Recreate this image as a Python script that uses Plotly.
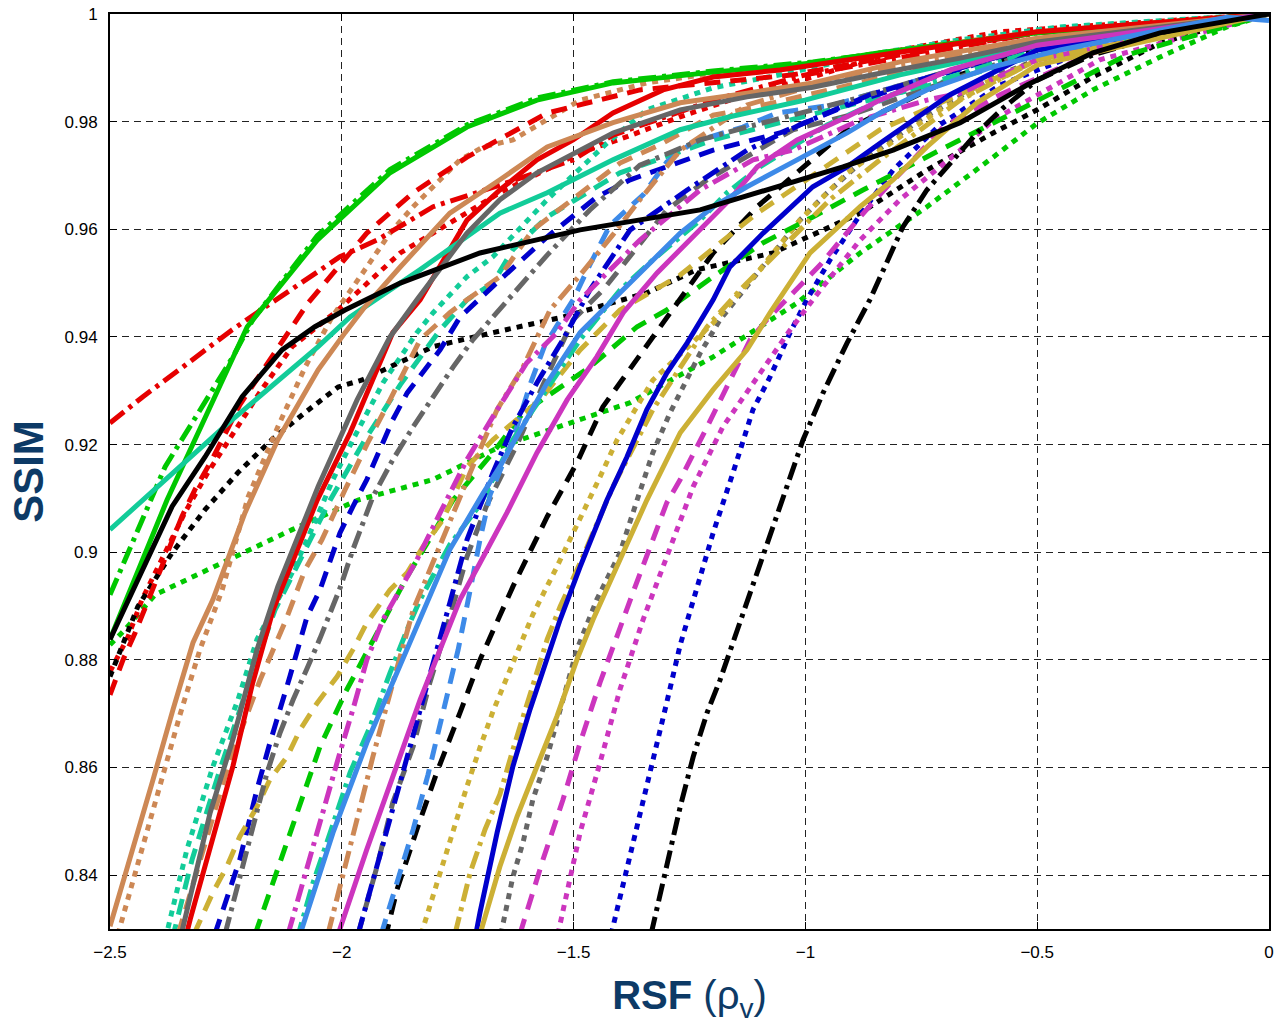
import plotly.graph_objects as go

# ---------------- data (RSF rho_v vs SSIM) ----------------
green_solid_x = [-2.5, -2.377, -2.204, -2.053, -1.896, -1.730, -1.579, -1.415, -1.199, -0.984, -0.839, -0.5, 0]
green_solid_y = [.8838, .9097, .9419, .9580, .9705, .9790, .9840, .9872, .9892, .9909, .9928, .9965, 1.0]
green_dashdot_x = [-2.5, -2.381, -2.235, -2.192, -2.053, -1.896, -1.730, -1.579, -1.415, -1.199, -0.984, -0.5, 0]
green_dashdot_y = [.8921, .9159, .9363, .9432, .9588, .9711, .9794, .9844, .9874, .9894, .9911, .9965, 1.0]
green_dot_x = [-2.5, -2.468, -2.403, -2.258, -2.107, -1.965, -1.803, -1.659, -1.486, -1.378, -1.199, -1.018, -0.882, -0.739, -0.595, -0.5, -0.380, -0.235, -0.091, 0]
green_dot_y = [.8828, .8856, .8921, .8980, .9042, .9097, .9135, .9196, .9246, .9278, .9363, .9463, .9556, .9641, .9734, .9797, .9859, .9920, .9976, 1.0]
green_dash_x = [-2.187, -2.133, -2.090, -2.047, -1.989, -1.924, -1.859, -1.760, -1.674, -1.609, -1.529, -1.465, -1.363, -1.299, -1.199, -1.091, -0.984, -0.876, -0.710, -0.5, -0.306, 0]
green_dash_y = [.8290, .8423, .8527, .8639, .8745, .8851, .8955, .9097, .9185, .9259, .9307, .9344, .9419, .9450, .9512, .9575, .9623, .9673, .9747, .9840, .9924, 1.0]

red_solid_x = [-2.338, -2.327, -2.235, -2.192, -2.148, -2.053, -1.982, -1.890, -1.831, -1.730, -1.659, -1.579, -1.501, -1.415, -1.307, -1.199, -1.055, -0.796, -0.5, 0]
red_solid_y = [.8280, .8318, .8602, .8758, .8893, .9097, .9222, .9408, .9469, .9617, .9673, .9729, .9766, .9816, .9859, .9883, .9896, .9929, .9967, 1.0]
red_dashdot_x = [-2.5, -2.429, -2.343, -2.237, -2.183, -2.118, -2.004, -1.924, -1.803, -1.659, -1.501, -1.415, -1.199, -1.0, -0.5, 0]
red_dashdot_y = [.9240, .9289, .9344, .9413, .9445, .9482, .9549, .9580, .9642, .9682, .9729, .9775, .9840, .9887, .9965, 1.0]
red_dash_x = [-2.5, -2.472, -2.446, -2.345, -2.317, -2.280, -2.220, -2.144, -2.107, -2.073, -1.946, -1.846, -1.730, -1.674, -1.557, -1.357, -1.027, -0.796, -0.5, 0]
red_dash_y = [.8735, .8800, .8850, .9066, .9116, .9172, .9274, .9370, .9419, .9463, .9593, .9668, .9734, .9760, .9816, .9859, .9887, .9924, .9965, 1.0]
red_dot_x = [-2.5, -2.461, -2.431, -2.397, -2.367, -2.339, -2.289, -2.231, -2.173, -2.107, -2.043, -2.008, -1.874, -1.803, -1.659, -1.486, -1.385, -1.270, -1.163, -0.984, -0.796, -0.580, 0]
red_dot_y = [.8778, .8843, .8912, .8973, .9023, .9073, .9148, .9227, .9302, .9382, .9426, .9450, .9556, .9593, .9668, .9742, .9772, .9809, .9840, .9883, .9933, .9967, 1.0]

black_solid_x = [-2.5, -2.366, -2.295, -2.215, -2.129, -2.058, -1.993, -1.874, -1.702, -1.486, -1.227, -1.061, -0.919, -0.811, -0.666, -0.522, -0.380, -0.235, 0]
black_solid_y = [.8838, .9085, .9177, .9289, .9376, .9419, .9450, .9500, .9556, .9599, .9636, .9679, .9716, .9747, .9798, .9868, .9928, .9965, 1.0]
black_dot_x = [-2.5, -2.440, -2.366, -2.295, -2.224, -2.151, -2.080, -2.008, -1.956, -1.803, -1.674, -1.523, -1.342, -1.234, -1.070, -0.882, -0.738, -0.595, -0.5, -0.380, -0.235, -0.091, 0]
black_dot_y = [.8769, .8899, .8999, .9079, .9148, .9209, .9259, .9307, .9320, .9382, .9408, .9437, .9482, .9525, .9556, .9630, .9710, .9779, .9822, .9883, .9946, .9983, 1.0]
black_dash_x = [-1.907, -1.881, -1.838, -1.795, -1.745, -1.702, -1.665, -1.631, -1.557, -1.493, -1.437, -1.385, -1.277, -1.199, -1.104, -1.005, -0.910, -0.839, -0.666, -0.5, 0]
black_dash_y = [.8280, .8373, .8485, .8591, .8702, .8800, .8871, .8936, .9066, .9166, .9270, .9333, .9463, .9556, .9642, .9716, .9785, .9816, .9887, .9937, 1.0]
black_dashdot_x = [-1.333, -1.299, -1.270, -1.242, -1.212, -1.184, -1.130, -1.076, -1.040, -1.005, -0.962, -0.910, -0.861, -0.790, -0.738, -0.688, -0.630, -0.574, -0.5, -0.380, -0.235, -0.091, 0]
black_dashdot_y = [.8290, .8416, .8527, .8620, .8702, .8763, .8897, .9036, .9122, .9209, .9296, .9389, .9469, .9604, .9673, .9723, .9779, .9825, .9877, .9924, .9961, .9989, 1.0]

teal_solid_x = [-2.5, -2.245, -2.051, -1.982, -1.831, -1.659, -1.557, -1.415, -1.270, -1.163, -1.001, -0.796, -0.5, 0]
teal_solid_y = [.9042, .9240, .9382, .9437, .9525, .9630, .9668, .9729, .9785, .9809, .9840, .9887, .9942, 1.0]
teal_dot_x = [-2.381, -2.334, -2.278, -2.224, -2.183, -2.107, -2.075, -2.019, -1.976, -1.911, -1.838, -1.803, -1.730, -1.674, -1.557, -1.428, -1.342, -1.199, -1.055, -0.839, -0.666, -0.451, 0]
teal_dot_y = [.8280, .8448, .8602, .8726, .8838, .8962, .9023, .9135, .9209, .9315, .9408, .9445, .9512, .9549, .9655, .9760, .9822, .9863, .9887, .9928, .9952, .9976, 1.0]
teal_dash_x = [-2.366, -2.323, -2.263, -2.198, -2.144, -2.090, -2.025, -1.950, -1.874, -1.788, -1.730, -1.674, -1.631, -1.557, -1.400, -1.320, -1.199, -0.947, -0.688, -0.5, 0]
teal_dash_y = [.8280, .8429, .8596, .8763, .8893, .8986, .9097, .9209, .9311, .9413, .9469, .9500, .9562, .9623, .9705, .9729, .9766, .9822, .9877, .9924, 1.0]
teal_dashdot_x = [-2.097, -2.062, -2.025, -1.982, -1.939, -1.896, -1.853, -1.831, -1.767, -1.702, -1.631, -1.557, -1.486, -1.400, -1.329, -1.227, -1.169, -1.098, -0.953, -0.811, -0.5, 0]
teal_dashdot_y = [.8280, .8386, .8479, .8591, .8676, .8776, .8869, .8912, .9014, .9088, .9209, .9302, .9395, .9487, .9543, .9617, .9668, .9716, .9794, .9850, .9933, 1.0]

brown_solid_x = [-2.5, -2.450, -2.407, -2.364, -2.321, -2.278, -2.209, -2.138, -2.051, -1.993, -1.950, -1.874, -1.767, -1.659, -1.557, -1.415, -1.270, -1.126, -0.984, -0.796, -0.5, 0]
brown_solid_y = [.8305, .8448, .8578, .8708, .8832, .8912, .9073, .9209, .9339, .9408, .9456, .9530, .9630, .9692, .9753, .9798, .9835, .9853, .9872, .9911, .9955, 1.0]
brown_dot_x = [-2.483, -2.435, -2.392, -2.349, -2.306, -2.258, -2.202, -2.138, -2.079, -2.021, -1.946, -1.896, -1.846, -1.803, -1.745, -1.695, -1.631, -1.486, -1.342, -1.199, -0.984, -0.839, -0.5, 0]
brown_dot_y = [.8290, .8438, .8568, .8698, .8819, .8930, .9103, .9233, .9344, .9437, .9530, .9593, .9642, .9679, .9729, .9753, .9766, .9840, .9872, .9890, .9909, .9928, .9967, 1.0]
brown_dash_x = [-2.353, -2.306, -2.241, -2.176, -2.123, -2.079, -2.043, -1.993, -1.946, -1.896, -1.831, -1.767, -1.730, -1.659, -1.588, -1.523, -1.400, -1.314, -1.199, -1.135, -0.904, -0.5, 0]
brown_dash_y = [.8290, .8429, .8615, .8763, .8869, .8968, .9023, .9116, .9200, .9283, .9395, .9445, .9469, .9512, .9599, .9642, .9723, .9757, .9812, .9822, .9868, .9952, 1.0]
brown_dashdot_x = [-2.030, -2.004, -1.976, -1.933, -1.890, -1.846, -1.816, -1.773, -1.723, -1.665, -1.609, -1.551, -1.486, -1.415, -1.357, -1.270, -1.126, -0.904, -0.5, 0]
brown_dashdot_y = [.8290, .8379, .8479, .8620, .8757, .8893, .8955, .9047, .9148, .9265, .9344, .9450, .9515, .9590, .9655, .9747, .9831, .9887, .9952, 1.0]

gray_solid_x = [-2.349, -2.284, -2.235, -2.183, -2.138, -2.051, -1.967, -1.896, -1.838, -1.730, -1.659, -1.579, -1.415, -1.270, -1.126, -0.984, -0.839, -0.666, -0.5, 0]
gray_solid_y = [.8280, .8516, .8652, .8819, .8936, .9122, .9283, .9400, .9469, .9593, .9655, .9705, .9779, .9822, .9846, .9864, .9890, .9918, .9948, 1.0]
gray_dot_x = [-1.657, -1.631, -1.609, -1.588, -1.557, -1.536, -1.514, -1.493, -1.450, -1.400, -1.363, -1.329, -1.292, -1.255, -1.227, -1.184, -1.098, -1.012, -0.953, -0.882, -0.753, -0.595, -0.5, 0]
gray_dot_y = [.8290, .8397, .8461, .8540, .8620, .8683, .8750, .8819, .8912, .8999, .9097, .9185, .9259, .9320, .9370, .9432, .9525, .9617, .9668, .9723, .9803, .9883, .9915, 1.0]
gray_dash_x = [-1.965, -1.924, -1.890, -1.846, -1.810, -1.773, -1.730, -1.687, -1.622, -1.566, -1.501, -1.437, -1.393, -1.299, -1.212, -1.027, -0.904, -0.688, -0.5, 0]
gray_dash_y = [.8290, .8416, .8535, .8639, .8758, .8862, .8992, .9088, .9200, .9311, .9432, .9487, .9534, .9636, .9692, .9785, .9812, .9877, .9933, 1.0]
gray_dashdot_x = [-2.252, -2.220, -2.192, -2.161, -2.133, -2.105, -2.075, -2.047, -2.004, -1.976, -1.933, -1.890, -1.846, -1.803, -1.760, -1.717, -1.674, -1.616, -1.557, -1.465, -1.357, -1.227, -1.126, -0.904, -0.5, 0]
gray_dashdot_y = [.8290, .8397, .8490, .8591, .8665, .8726, .8784, .8840, .8933, .9005, .9103, .9172, .9233, .9289, .9344, .9395, .9437, .9497, .9552, .9636, .9719, .9766, .9790, .9840, .9942, 1.0]

blue_solid_x = [-1.711, -1.702, -1.665, -1.631, -1.594, -1.557, -1.529, -1.486, -1.428, -1.385, -1.342, -1.299, -1.255, -1.199, -1.163, -1.091, -0.984, -0.910, -0.839, -0.688, -0.5, 0]
blue_solid_y = [.8290, .8330, .8479, .8602, .8708, .8800, .8875, .8973, .9097, .9177, .9265, .9333, .9389, .9469, .9530, .9593, .9679, .9716, .9760, .9850, .9933, 1.0]
blue_dot_x = [-1.419, -1.385, -1.357, -1.329, -1.299, -1.270, -1.242, -1.199, -1.156, -1.113, -1.076, -1.033, -0.997, -0.947, -0.882, -0.811, -0.710, -0.580, -0.365, 0]
blue_dot_y = [.8290, .8410, .8509, .8611, .8721, .8828, .8912, .9036, .9148, .9265, .9326, .9408, .9469, .9543, .9627, .9710, .9794, .9868, .9942, 1.0]
blue_dash_x = [-2.274, -2.220, -2.183, -2.155, -2.112, -2.075, -2.047, -2.004, -1.976, -1.946, -1.890, -1.859, -1.788, -1.745, -1.659, -1.557, -1.450, -1.378, -1.199, -1.055, -0.882, -0.5, 0]
blue_dash_y = [.8290, .8429, .8559, .8646, .8769, .8880, .8930, .9036, .9085, .9135, .9246, .9296, .9376, .9437, .9506, .9586, .9660, .9692, .9747, .9779, .9840, .9942, 1.0]
blue_dashdot_x = [-1.965, -1.924, -1.896, -1.859, -1.831, -1.803, -1.767, -1.730, -1.674, -1.631, -1.579, -1.523, -1.465, -1.378, -1.255, -1.126, -1.012, -0.861, -0.5, 0]
blue_dashdot_y = [.8290, .8416, .8509, .8615, .8708, .8787, .8906, .9023, .9148, .9233, .9315, .9395, .9487, .9599, .9673, .9747, .9794, .9850, .9942, 1.0]

lightblue_solid_x = [-2.090, -2.019, -1.946, -1.890, -1.831, -1.767, -1.695, -1.659, -1.557, -1.486, -1.415, -1.342, -1.270, -1.199, -1.126, -1.018, -0.910, -0.839, -0.738, -0.595, -0.451, -0.235, -0.091, 0]
lightblue_solid_y = [.8290, .8479, .8646, .8758, .8875, .9005, .9110, .9159, .9315, .9408, .9469, .9530, .9593, .9642, .9679, .9729, .9779, .9816, .9859, .9902, .9933, .9970, .9994, .9988]
lightblue_dash_x = [-1.915, -1.881, -1.846, -1.814, -1.782, -1.749, -1.723, -1.702, -1.680, -1.631, -1.594, -1.562, -1.501, -1.465, -1.421, -1.350, -1.299, -1.242, -1.135, -1.061, -0.940, -0.738, -0.5, 0]
lightblue_dash_y = [.8290, .8383, .8485, .8587, .8698, .8819, .8930, .9023, .9107, .9209, .9311, .9385, .9469, .9534, .9608, .9664, .9725, .9762, .9790, .9816, .9831, .9883, .9942, 1.0]

magenta_solid_x = [-2.008, -1.946, -1.890, -1.831, -1.782, -1.745, -1.702, -1.644, -1.579, -1.514, -1.450, -1.393, -1.320, -1.234, -1.163, -1.104, -1.018, -0.910, -0.839, -0.688, -0.5, 0]
magenta_solid_y = [.8290, .8448, .8583, .8726, .8832, .8912, .8980, .9073, .9185, .9283, .9363, .9445, .9519, .9593, .9655, .9716, .9766, .9809, .9840, .9896, .9942, 1.0]
magenta_dashdot_x = [-2.116, -2.075, -2.032, -2.004, -1.976, -1.946, -1.911, -1.838, -1.788, -1.730, -1.674, -1.601, -1.536, -1.486, -1.357, -1.227, -1.113, -1.027, -0.882, -0.738, -0.666, -0.5, 0]
magenta_dashdot_y = [.8290, .8416, .8540, .8628, .8708, .8800, .8875, .8986, .9073, .9172, .9252, .9352, .9408, .9469, .9580, .9673, .9729, .9747, .9803, .9840, .9853, .9915, 1.0]
magenta_dash_x = [-1.616, -1.566, -1.523, -1.486, -1.443, -1.400, -1.372, -1.299, -1.270, -1.212, -1.184, -1.119, -1.083, -1.040, -0.968, -0.882, -0.824, -0.774, -0.703, -0.580, -0.5, -0.365, 0]
magenta_dash_y = [.8290, .8429, .8540, .8646, .8758, .8862, .8925, .9092, .9135, .9233, .9283, .9395, .9432, .9469, .9534, .9623, .9679, .9723, .9790, .9850, .9881, .9933, 1.0]
magenta_dot_x = [-1.534, -1.508, -1.486, -1.443, -1.400, -1.350, -1.299, -1.242, -1.178, -1.104, -1.033, -0.968, -0.882, -0.796, -0.666, -0.595, -0.5, -0.365, 0]
magenta_dot_y = [.8290, .8397, .8479, .8609, .8745, .8875, .8992, .9122, .9233, .9326, .9413, .9487, .9580, .9655, .9747, .9803, .9850, .9915, 1.0]

gold_solid_x = [-1.702, -1.659, -1.622, -1.579, -1.536, -1.493, -1.458, -1.400, -1.342, -1.270, -1.199, -1.126, -1.076, -0.990, -0.882, -0.811, -0.738, -0.630, -0.5, 0]
gold_solid_y = [.8290, .8416, .8509, .8602, .8695, .8800, .8875, .8986, .9097, .9222, .9302, .9376, .9445, .9556, .9642, .9692, .9753, .9835, .9905, 1.0]
gold_dot_x = [-1.829, -1.795, -1.760, -1.730, -1.702, -1.674, -1.644, -1.616, -1.588, -1.536, -1.486, -1.443, -1.406, -1.329, -1.299, -1.199, -1.104, -1.012, -0.910, -0.839, -0.710, -0.5, 0]
gold_dot_y = [.8290, .8386, .8479, .8565, .8637, .8704, .8767, .8828, .8884, .8973, .9060, .9140, .9209, .9320, .9344, .9426, .9519, .9617, .9705, .9747, .9822, .9915, 1.0]
gold_dash_x = [-2.319, -2.278, -2.248, -2.220, -2.183, -2.155, -2.118, -2.090, -2.053, -2.010, -1.976, -1.946, -1.896, -1.859, -1.825, -1.782, -1.730, -1.674, -1.572, -1.486, -1.400, -1.270, -1.104, -0.984, -0.839, -0.5, 0]
gold_dash_y = [.8290, .8368, .8416, .8472, .8527, .8578, .8620, .8670, .8720, .8769, .8819, .8869, .8930, .8962, .9010, .9060, .9159, .9209, .9283, .9376, .9450, .9515, .9630, .9701, .9785, .9915, 1.0]
gold_dashdot_x = [-1.756, -1.723, -1.691, -1.659, -1.631, -1.594, -1.557, -1.529, -1.486, -1.415, -1.329, -1.255, -1.212, -1.141, -1.055, -0.947, -0.839, -0.666, -0.5, 0]
gold_dashdot_y = [.8290, .8405, .8485, .8550, .8633, .8739, .8838, .8899, .8980, .9122, .9265, .9363, .9419, .9487, .9562, .9655, .9729, .9840, .9915, 1.0]

x_ticks = [-2.5, -2, -1.5, -1, -0.5, 0]
x_ticklabels = ["\u22122.5", "\u22122", "\u22121.5", "\u22121", "\u22120.5", "0"]
y_ticks = [0.84, 0.86, 0.88, 0.90, 0.92, 0.94, 0.96, 0.98, 1.0]
y_ticklabels = ["0.84", "0.86", "0.88", "0.9", "0.92", "0.94", "0.96", "0.98", "1"]

# ---------------- styles ----------------
COL = {
    "green": "#00C800", "red": "#E60000", "black": "#000000", "teal": "#12CC99",
    "brown": "#CD8855", "gray": "#666666", "blue": "#0000CC", "lightblue": "#3D8AE8",
    "magenta": "#CC35BE", "gold": "#CCB035",
}
DASH = {"solid": "solid", "dash": "16px,10px", "dot": "6px,6px", "dashdot": "18px,6px,4px,6px"}

series = [
    # dotted
    ("green", "dot", green_dot_x, green_dot_y),
    ("red", "dot", red_dot_x, red_dot_y),
    ("black", "dot", black_dot_x, black_dot_y),
    ("teal", "dot", teal_dot_x, teal_dot_y),
    ("brown", "dot", brown_dot_x, brown_dot_y),
    ("gray", "dot", gray_dot_x, gray_dot_y),
    ("blue", "dot", blue_dot_x, blue_dot_y),
    ("magenta", "dot", magenta_dot_x, magenta_dot_y),
    ("gold", "dot", gold_dot_x, gold_dot_y),
    # dashed
    ("green", "dash", green_dash_x, green_dash_y),
    ("red", "dash", red_dash_x, red_dash_y),
    ("black", "dash", black_dash_x, black_dash_y),
    ("teal", "dash", teal_dash_x, teal_dash_y),
    ("brown", "dash", brown_dash_x, brown_dash_y),
    ("gray", "dash", gray_dash_x, gray_dash_y),
    ("blue", "dash", blue_dash_x, blue_dash_y),
    ("lightblue", "dash", lightblue_dash_x, lightblue_dash_y),
    ("magenta", "dash", magenta_dash_x, magenta_dash_y),
    ("gold", "dash", gold_dash_x, gold_dash_y),
    # dash-dot
    ("green", "dashdot", green_dashdot_x, green_dashdot_y),
    ("red", "dashdot", red_dashdot_x, red_dashdot_y),
    ("teal", "dashdot", teal_dashdot_x, teal_dashdot_y),
    ("brown", "dashdot", brown_dashdot_x, brown_dashdot_y),
    ("gray", "dashdot", gray_dashdot_x, gray_dashdot_y),
    ("blue", "dashdot", blue_dashdot_x, blue_dashdot_y),
    ("magenta", "dashdot", magenta_dashdot_x, magenta_dashdot_y),
    ("gold", "dashdot", gold_dashdot_x, gold_dashdot_y),
    ("black", "dashdot", black_dashdot_x, black_dashdot_y),
    # solid
    ("green", "solid", green_solid_x, green_solid_y),
    ("red", "solid", red_solid_x, red_solid_y),
    ("teal", "solid", teal_solid_x, teal_solid_y),
    ("brown", "solid", brown_solid_x, brown_solid_y),
    ("gray", "solid", gray_solid_x, gray_solid_y),
    ("blue", "solid", blue_solid_x, blue_solid_y),
    ("magenta", "solid", magenta_solid_x, magenta_solid_y),
    ("gold", "solid", gold_solid_x, gold_solid_y),
    ("lightblue", "solid", lightblue_solid_x, lightblue_solid_y),
    ("black", "solid", black_solid_x, black_solid_y),
]

fig = go.Figure()
for color, style, xs, ys in series:
    fig.add_trace(go.Scatter(
        x=xs, y=ys, mode="lines",
        line=dict(color=COL[color], width=5, dash=DASH[style]),
        showlegend=False, hoverinfo="skip",
    ))

axis_common = dict(
    showline=True, linecolor="black", linewidth=1.8, mirror="ticks",
    ticks="inside", ticklen=7, tickwidth=1, tickcolor="black",
    showgrid=True, gridcolor="#222222", gridwidth=1, griddash="7px,5px",
    zeroline=False,
    tickfont=dict(family="Liberation Sans, Arial, sans-serif", size=17, color="black"),
    ticklabelstandoff=7,
)

fig.update_layout(
    width=1278, height=1024,
    margin=dict(l=110, r=9, t=14, b=95),
    paper_bgcolor="white", plot_bgcolor="white",
    xaxis=dict(range=[-2.5, 0], tickvals=x_ticks, ticktext=x_ticklabels,
               title=dict(text="<b>RSF</b> (\u03c1<sub>v</sub>)",
                          font=dict(family="Liberation Sans, Arial, sans-serif", size=40, color="#0D3A66"),
                          standoff=20),
               automargin=False, **axis_common),
    yaxis=dict(range=[0.83, 1.0], tickvals=y_ticks, ticktext=y_ticklabels,
               title=dict(text="<b>SSIM</b>",
                          font=dict(family="Liberation Sans, Arial, sans-serif", size=42, color="#0D3A66"),
                          standoff=8),
               automargin=False, **axis_common),
)

fig.write_html("out.html")
